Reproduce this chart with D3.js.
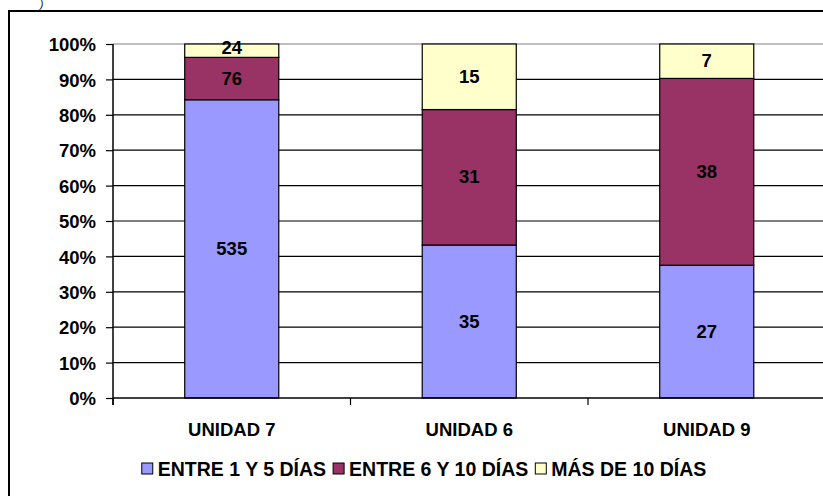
<!DOCTYPE html>
<html><head><meta charset="utf-8">
<script src="https://cdn.jsdelivr.net/npm/d3@7"></script>
<style>body{margin:0;background:#fff}svg{display:block}text{font-family:"Liberation Sans",Arial,sans-serif;font-weight:bold;fill:#000}</style>
</head><body><svg id="c" width="823" height="496"></svg>
<script>
const categories = ["UNIDAD 7", "UNIDAD 6", "UNIDAD 9"];
const seriesNames = ["ENTRE 1 Y 5 DÍAS", "ENTRE 6 Y 10 DÍAS", "MÁS DE 10 DÍAS"];
const serie1 = [535, 35, 27];
const serie2 = [76, 31, 38];
const serie3 = [24, 15, 7];
const colors = ["#9999FF", "#993366", "#FFFFCC"];
const yTicks = [0, 0.1, 0.2, 0.3, 0.4, 0.5, 0.6, 0.7, 0.8, 0.9, 1];

const FS = 18.5;
const svg = d3.select("#c");
const rows = categories.map((c, i) => ({cat: c, s0: serie1[i], s1: serie2[i], s2: serie3[i]}));
const stack = d3.stack().keys(["s0", "s1", "s2"]).offset(d3.stackOffsetExpand);
const stacked = stack(rows);

const x = d3.scaleBand().domain(categories).range([113, 825.5]).paddingInner(0.604).paddingOuter(0.302);
const y = d3.scaleLinear().domain([0, 1]).range([398, 44]);

// outer frame
svg.append("rect").attr("x", 9).attr("y", 11).attr("width", 830).attr("height", 500)
  .attr("fill", "none").attr("stroke", "#000").attr("stroke-width", 2);
svg.append("text").attr("x", 40).attr("y", 8).attr("font-size", 10).style("font-weight", "normal").style("font-style", "italic").text(")");

// gridlines
svg.append("g").selectAll("line").data(yTicks.filter(d => d > 0)).join("line")
  .attr("x1", 113).attr("x2", 823).attr("y1", d => y(d)).attr("y2", d => y(d))
  .attr("stroke", d => d === 1 ? "#808080" : "#000").attr("stroke-width", 1.2);

// bars
const g = svg.append("g");
stacked.forEach((layer, li) => {
  g.append("g").selectAll("rect").data(layer).join("rect")
    .attr("x", d => x(d.data.cat)).attr("width", x.bandwidth())
    .attr("y", d => y(d[1])).attr("height", d => y(d[0]) - y(d[1]))
    .attr("fill", colors[li]).attr("stroke", "#000").attr("stroke-width", 1.2);
});
// labels
stacked.forEach((layer, li) => {
  g.append("g").selectAll("text").data(layer).join("text")
    .attr("x", d => x(d.data.cat) + x.bandwidth() / 2)
    .attr("y", d => (y(d[0]) + y(d[1])) / 2 + (li === 2 && d.data.cat === "UNIDAD 7" ? 3 : 6))
    .attr("text-anchor", "middle").attr("font-size", FS)
    .text(d => d.data[layer.key]);
});

// y axis
const yAxis = d3.axisLeft(y).tickValues(yTicks).tickFormat(d3.format(".0%")).tickSize(7).tickPadding(10);
const ya = svg.append("g").attr("transform", "translate(113,0)").call(yAxis);
ya.select(".domain").attr("stroke", "#000").attr("stroke-width", 1.5).attr("d", "M0,44V405");
ya.selectAll(".tick line").attr("stroke", "#000").attr("stroke-width", 1.2);
ya.selectAll(".tick text").attr("font-size", FS).attr("font-family", "Liberation Sans, Arial, sans-serif").attr("font-weight", "bold").attr("fill", "#000").attr("dy", "0.36em");

// x axis
const xa = svg.append("g");
xa.append("line").attr("x1", 113).attr("x2", 823).attr("y1", 398).attr("y2", 398).attr("stroke", "#000").attr("stroke-width", 1.5);
const bounds = [113, 113 + x.step(), 113 + 2 * x.step()];
xa.selectAll("line.t").data(bounds).join("line").attr("class", "t")
  .attr("x1", d => d).attr("x2", d => d).attr("y1", 398).attr("y2", 405).attr("stroke", "#000").attr("stroke-width", 1.2);
xa.selectAll("text").data(categories).join("text")
  .attr("x", d => x(d) + x.bandwidth() / 2).attr("y", 436).attr("text-anchor", "middle").attr("font-size", FS).text(d => d);

// legend
const leg = svg.append("g");
let cx = 0;
seriesNames.forEach((n, i) => {
  const gi = leg.append("g");
  gi.append("rect").attr("x", 0).attr("y", -13).attr("width", 11).attr("height", 11)
    .attr("fill", colors[i]).attr("stroke", "#000").attr("stroke-width", 1);
  const t = gi.append("text").attr("x", 16).attr("y", 0).attr("font-size", 19.5).text(n);
  const w = 16 + t.node().getComputedTextLength();
  gi.attr("transform", `translate(${cx},0)`);
  cx += w + 7;
});
const total = cx - 7;
leg.attr("transform", `translate(${424 - total / 2},476)`);
</script></body></html>
